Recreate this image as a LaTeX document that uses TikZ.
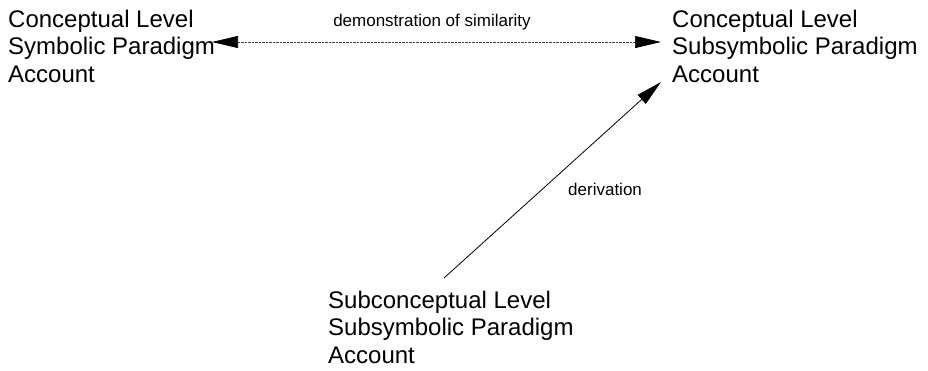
\documentclass[tikz,border=0pt]{standalone}
\usepackage{fontspec}
\setmainfont{Liberation Sans}
\usetikzlibrary{arrows.meta}
\tikzset{
  block/.style={anchor=base west, align=left, inner sep=0pt, font=\fontsize{24}{27.5}\selectfont},
  lab/.style={inner sep=0pt, anchor=base, font=\fontsize{17}{20}\selectfont},
  bigtip/.tip={Triangle[length=26pt,width=12pt,color=black]},
  simline/.style={line width=0.7pt, draw=black!75, dash pattern=on 0.8pt off 0.6pt},
  derline/.style={line width=0.8pt, draw=black},
}
\begin{document}
\begin{tikzpicture}[x=1pt,y=1pt]
\useasboundingbox (0,0) rectangle (928,-370);
% base anchor of a multi-line node is the baseline of its last line
\node[block] (ls) at (8,-82) {Conceptual Level\\Symbolic Paradigm\\Account};
\node[block] (rs) at (672,-82) {Conceptual Level\\Subsymbolic Paradigm\\Account};
\node[block] (bs) at (328,-363) {Subconceptual Level\\Subsymbolic Paradigm\\Account};
\coordinate (hl) at (212,-42);
\coordinate (hr) at (661,-42);
\coordinate (db) at (444,-278);
\coordinate (dt) at (661,-82);
\draw[simline, bigtip-bigtip] (hl) -- (hr);
\draw[derline, -bigtip] (db) -- (dt);
\node[lab] (sim) at (432,-26) {demonstration of similarity};
\node[lab, anchor=base west] (der) at (568,-195) {derivation};
\end{tikzpicture}
\end{document}
